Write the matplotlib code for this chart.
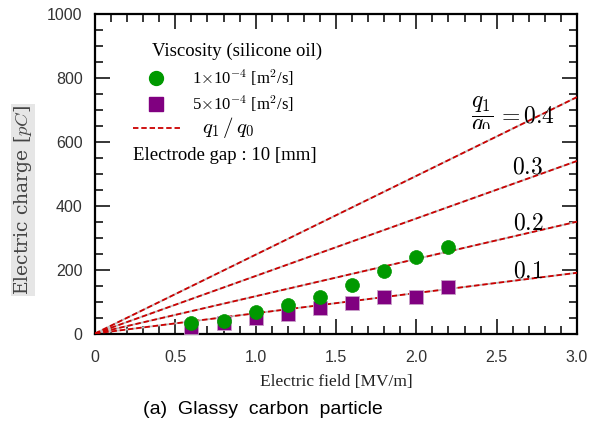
import matplotlib
matplotlib.use("Agg")
import matplotlib.pyplot as plt
import numpy as np
from matplotlib.transforms import Bbox, TransformedBbox

plt.rcParams['mathtext.fontset'] = 'cm'

# ---- data ----
field = [0.6, 0.8, 1.0, 1.2, 1.4, 1.6, 1.8, 2.0, 2.2]
charge_1e4 = [32, 40, 66, 88, 115, 151, 195, 239, 271]
charge_5e4 = [21, 32, 49, 61, 79, 97, 113, 115, 147]
ratio_labels = ["0.4", "0.3", "0.2", "0.1"]
ratio_end_values = [740, 540, 350, 190]   # charge at 3.0 MV/m
line_x = [0.0, 3.0]
xticks = [0, 0.5, 1.0, 1.5, 2.0, 2.5, 3.0]
xticklabels = ["0", "0.5", "1.0", "1.5", "2.0", "2.5", "3.0"]
yticks = [0, 200, 400, 600, 800, 1000]

W, H = 597, 425
fig = plt.figure(figsize=(W / 100, H / 100), dpi=100)
L, R, T, B = 95, 577, 14, 333.5
ax = fig.add_axes([L / W, 1 - B / H, (R - L) / W, (B - T) / H])

def axp(px, py):
    return ((px - L) / (R - L), (B - py) / (B - T))

# ratio lines: gray solid underneath, red dashes on top
for v in ratio_end_values:
    ax.plot(line_x, [0, v], color='#c0c0c0', lw=1.3, zorder=2)
    ax.plot(line_x, [0, v], color='#cc0000', lw=1.3, dashes=(3, 1.6), zorder=3)

ax.plot(field, charge_5e4, ls='none', marker='s', ms=9.5, color='#800080',
        mec='#c8a0c8', mew=0.6, zorder=4, clip_on=False)
ax.plot(field, charge_1e4, ls='none', marker='o', ms=10, color='#009900',
        mec='#009900', mew=0.5, zorder=5, clip_on=False)

ax.set_xlim(0, 3.0)
ax.set_ylim(0, 1000)
ax.set_xticks(xticks)
ax.set_xticklabels(xticklabels)
ax.set_yticks(yticks)
ax.set_xticks(np.arange(0, 3.01, 0.1), minor=True)
ax.set_yticks(np.arange(0, 1001, 50), minor=True)
ax.tick_params(which='both', direction='in', top=True, right=True, width=1.1,
               colors='black', labelcolor='#333333')
ax.tick_params(which='major', length=11, labelsize=11.5)
ax.tick_params(axis='x', which='major', pad=12)
ax.tick_params(axis='y', which='major', pad=9)
ax.tick_params(which='minor', length=6)
for lab in ax.get_xticklabels() + ax.get_yticklabels():
    lab.set_fontfamily('Liberation Sans')
for s in ax.spines.values():
    s.set_linewidth(1.6)

ax.set_xlabel("Electric field [MV/m]", family='Liberation Serif', fontsize=12.5,
              color='#222222', labelpad=6)
ax.set_ylabel(r"Electric charge [$pC$]", family='DejaVu Serif', fontsize=13.5,
              color='#444444',
              bbox=dict(facecolor='#e6e6e6', edgecolor='none', pad=1))
ax.yaxis.set_label_coords(*axp(34, 200))

fig.text(263 / W, 1 - 410 / H, "(a)  Glassy  carbon  particle", ha='center', va='center',
         family='Liberation Sans', fontsize=14, color='black')

# legend (manual)
serif = 'Liberation Serif'
ax.text(*axp(152, 51), "Viscosity (silicone oil)", transform=ax.transAxes,
        family=serif, fontsize=13.5, va='center', ha='left')
ax.plot(*axp(156, 78), transform=ax.transAxes, marker='o', ms=10, color='#009900',
        clip_on=False)
ax.text(*axp(192, 78), r"1$\times$10$^{-4}$ [m$^{2}$/s]", transform=ax.transAxes,
        family=serif, fontsize=12, va='center', ha='left')
ax.plot(*axp(156, 104), transform=ax.transAxes, marker='s', ms=9.5, color='#800080',
        clip_on=False)
ax.text(*axp(192, 104), r"5$\times$10$^{-4}$ [m$^{2}$/s]", transform=ax.transAxes,
        family=serif, fontsize=12, va='center', ha='left')
x0, y0 = axp(133, 128)
x1, _ = axp(182, 128)
ax.plot([x0, x1], [y0, y0], transform=ax.transAxes, color='#cc0000', lw=1.3,
        dashes=(3, 1.6))
ax.text(*axp(202, 128), r"$q_1\,/\,q_0$", transform=ax.transAxes,
        fontsize=15, va='center', ha='left')
ax.text(*axp(133, 156), "Electrode gap : 10 [mm]", transform=ax.transAxes,
        family=serif, fontsize=13.5, va='center', ha='left')

# ratio labels
t = ax.text(*axp(482, 116), r"$\dfrac{q_1}{q_0}$", transform=ax.transAxes,
            fontsize=17, va='center', ha='center', zorder=6)
t.set_clip_on(True)
t.set_clip_box(TransformedBbox(Bbox.from_extents(0, 1 - 129 / H, 1, 1), fig.transFigure))
ax.text(*axp(497, 115.5), r"$=0.4$", transform=ax.transAxes,
        fontsize=17, va='center', ha='left', zorder=6)
for lab, py in zip(ratio_labels[1:], [167, 223, 270]):
    ax.text(*axp(528, py), "$" + lab + "$", transform=ax.transAxes, fontsize=17,
            va='center', ha='center', zorder=6)

fig.savefig("out.png", dpi=100)
